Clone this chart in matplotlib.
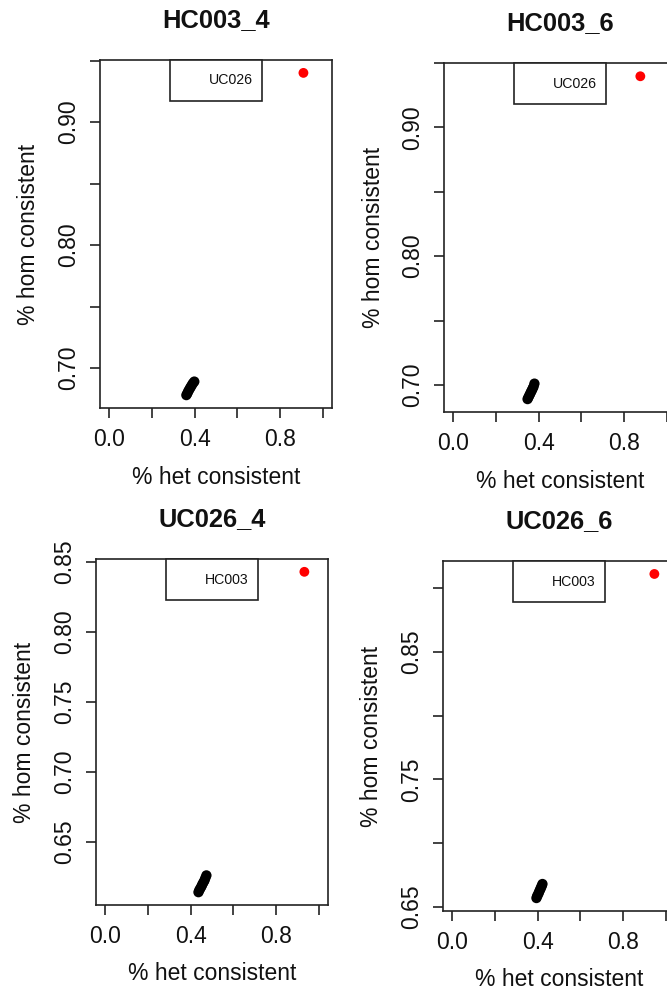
import matplotlib
matplotlib.use("Agg")
import matplotlib.pyplot as plt
from matplotlib.patches import Rectangle

plt.rcParams["font.family"] = ["Liberation Sans", "DejaVu Sans"]

# Panel titles and the comparison sample named in each legend box
titles = ["HC003_4", "HC003_6", "UC026_4", "UC026_6"]
legend_names = ["UC026", "UC026", "HC003", "HC003"]

# Cluster of unrelated samples (% het consistent, % hom consistent)
hc4_het = [0.362, 0.366, 0.370, 0.374, 0.379, 0.383, 0.388, 0.393, 0.399]
hc4_hom = [0.678, 0.6792, 0.6808, 0.6821, 0.6836, 0.6848, 0.6863, 0.6877, 0.6890]
hc6_het = [0.349, 0.353, 0.357, 0.361, 0.365, 0.369, 0.373, 0.377, 0.381]
hc6_hom = [0.689, 0.6904, 0.6918, 0.6931, 0.6946, 0.6958, 0.6973, 0.6987, 0.7010]
uc4_het = [0.437, 0.441, 0.446, 0.451, 0.455, 0.460, 0.465, 0.469, 0.474]
uc4_hom = [0.614, 0.6155, 0.6168, 0.6182, 0.6196, 0.6210, 0.6224, 0.6241, 0.6260]
uc6_het = [0.395, 0.398, 0.402, 0.406, 0.409, 0.413, 0.416, 0.420, 0.423]
uc6_hom = [0.657, 0.6584, 0.6597, 0.6611, 0.6625, 0.6639, 0.6652, 0.6666, 0.6680]

# Matching sample highlighted in red
match_het = [0.907, 0.874, 0.930, 0.944]
match_hom = [0.940, 0.9397, 0.843, 0.911]

cluster_het = [hc4_het, hc6_het, uc4_het, uc6_het]
cluster_hom = [hc4_hom, hc6_hom, uc4_hom, uc6_hom]

# y ticks per panel and which of them carry a label
y_ticks = [
    [0.70, 0.75, 0.80, 0.85, 0.90, 0.95],
    [0.70, 0.75, 0.80, 0.85, 0.90, 0.95],
    [0.65, 0.70, 0.75, 0.80, 0.85],
    [0.65, 0.70, 0.75, 0.80, 0.85, 0.90],
]
y_labels = [
    ["0.70", "", "0.80", "", "0.90", ""],
    ["0.70", "", "0.80", "", "0.90", ""],
    ["0.65", "0.70", "0.75", "0.80", "0.85"],
    ["0.65", "", "0.75", "", "0.85", ""],
]
x_ticks = [0.0, 0.2, 0.4, 0.6, 0.8, 1.0]
x_labels = ["0.0", "", "0.4", "", "0.8", ""]

W, H = 667, 994
fig = plt.figure(figsize=(W / 100, H / 100), dpi=100)

# plot regions in pixels: left, right, top, bottom
boxes = [
    (100, 332, 60, 408),
    (444, 676, 63, 412),
    (96, 328, 559, 905),
    (443, 675, 561, 911),
]

PX = 72 / 100  # points per pixel
fs_tick = 16.5
line_col = "#222222"

for i, (l, r, t, b) in enumerate(boxes):
    ax = fig.add_axes([l / W, (H - b) / H, (r - l) / W, (b - t) / H])
    hom_all = cluster_hom[i] + [match_hom[i]]
    lo, hi = min(hom_all), max(hom_all)
    pad = 0.04 * (hi - lo)
    ax.set_ylim(lo - pad, hi + pad)
    ax.set_xlim(-0.04, 1.04)

    ax.scatter(cluster_het[i], cluster_hom[i], s=55, color="black",
               edgecolors="none", zorder=3)
    ax.scatter([match_het[i]], [match_hom[i]], s=50, color="#ff0000",
               edgecolors="none", zorder=4)

    for sp in ax.spines.values():
        sp.set_linewidth(1.2)
        sp.set_color(line_col)

    ax.set_xticks(x_ticks)
    ax.set_xticklabels(x_labels)
    ax.set_yticks(y_ticks[i])
    ax.set_yticklabels(y_labels[i])
    ax.tick_params(axis="both", direction="out", length=10 * PX, width=1.2,
                   color=line_col, labelsize=fs_tick, labelcolor="#111111")
    ax.tick_params(axis="x", pad=7)
    ax.tick_params(axis="y", pad=7, labelrotation=90)
    for lab in ax.get_yticklabels():
        lab.set_verticalalignment("center")

    ph = b - t
    pw = r - l
    # title above the box
    ax.annotate(titles[i], xy=(0.5, 1.0), xycoords="axes fraction",
                xytext=(0, 40 * PX), textcoords="offset points",
                ha="center", va="center", fontsize=18.4, fontweight="bold",
                color="#111111")
    # axis titles
    ax.annotate("% het consistent", xy=(0.5, 0.0), xycoords="axes fraction",
                xytext=(0, -69 * PX), textcoords="offset points",
                ha="center", va="center", fontsize=fs_tick, color="#111111")
    ax.annotate("% hom consistent", xy=(0.0, 0.5), xycoords="axes fraction",
                xytext=(-71 * PX, 0), textcoords="offset points",
                ha="center", va="center", rotation=90, fontsize=fs_tick,
                color="#111111")

    # legend box at top centre
    bw, bh = 92 / pw, 41 / ph
    ax.add_patch(Rectangle((0.5 - bw / 2, 1 - bh), bw, bh,
                           transform=ax.transAxes, facecolor="white",
                           edgecolor=line_col, linewidth=1.2, zorder=5,
                           clip_on=False))
    ax.text(0.5 + bw / 2 - 9 / pw, 1 - bh / 2, legend_names[i],
            transform=ax.transAxes, ha="right", va="center",
            fontsize=10.2, color="#111111", zorder=6)

fig.savefig("out.png", dpi=100, facecolor="white")
